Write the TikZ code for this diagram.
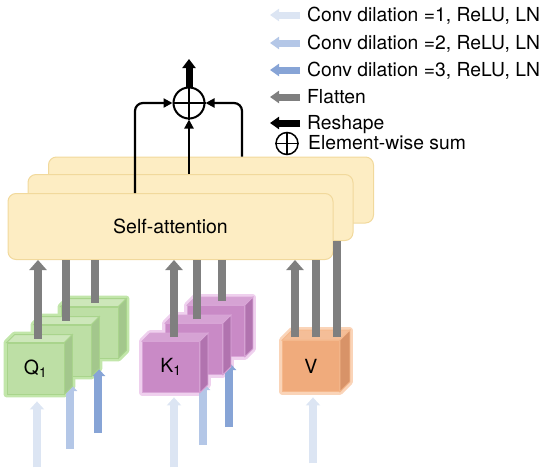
\documentclass[tikz,border=0pt]{standalone}
\usepackage{fontspec}
\setmainfont{TeX Gyre Heros}
\usetikzlibrary{arrows.meta,calc,backgrounds}

\definecolor{qfront}{HTML}{BDDFA5}
\definecolor{qtop}{HTML}{CDE7BA}
\definecolor{qside}{HTML}{A3C78C}
\definecolor{qedge}{HTML}{A9D48C}
\definecolor{qglow}{HTML}{C2E6AA}
\definecolor{kfront}{HTML}{C98AC6}
\definecolor{ktop}{HTML}{D6A3D4}
\definecolor{kside}{HTML}{B173AF}
\definecolor{kedge}{HTML}{D9A6D7}
\definecolor{kglow}{HTML}{EFD0EE}
\definecolor{vfront}{HTML}{F0AB7C}
\definecolor{vtop}{HTML}{F4BE98}
\definecolor{vside}{HTML}{D89368}
\definecolor{vedge}{HTML}{F5B88C}
\definecolor{vglow}{HTML}{FAD4B8}
\definecolor{safill}{HTML}{FDEDC3}
\definecolor{saedge}{HTML}{F1D99C}
\definecolor{convone}{HTML}{DCE5F3}
\definecolor{convtwo}{HTML}{B4C7E7}
\definecolor{convthree}{HTML}{87A4D6}
\definecolor{flatgray}{HTML}{7F7F7F}

\tikzset{
  sabox/.style={draw=saedge, fill=safill, line width=1pt, rounded corners=8pt,
    minimum width=325pt, minimum height=66pt, font=\fontsize{19.5}{19.5}\selectfont},
  cubeface/.style={fill=#1front, draw=#1edge, line width=0.8pt, inner sep=0pt,
    minimum width=57pt, minimum height=51pt, font=\fontsize{19.5}{19.5}\selectfont},
  convarrow/.style={draw=#1, line width=8pt, -{Triangle[width=14pt,length=8pt]}},
  flatarrow/.style={draw=flatgray, line width=8pt, -{Triangle[width=17pt,length=10pt]}},
  flatline/.style={draw=flatgray, line width=8pt},
  sumarrow/.style={line width=2.2pt, rounded corners=8pt, -{Triangle[width=9pt,length=9pt]}},
  reshapearrow/.style={line width=7pt, -{Triangle[width=13pt,length=9pt]}},
  legarrow/.style={draw=#1, line width=7pt, -{Triangle[width=12pt,length=9pt]}},
  legtext/.style={anchor=west, inner sep=0pt, text height=13.9pt, text depth=0pt,
    font=\fontsize{19.3}{19.3}\selectfont},
}

% cube: name, centre, colour family, label, depth
\newcommand{\qkvcube}[5]{%
  \node[cubeface=#3] (#1) at (#2) {#4};
  \filldraw[fill=#3top, draw=#3edge, line width=0.8pt] (#1.north west) -- ++(#5,-#5)
    -- ([shift={(#5,-#5)}]#1.north east) -- (#1.north east) -- cycle;
  \filldraw[fill=#3side, draw=#3edge, line width=0.8pt] (#1.north east) -- ++(#5,-#5)
    -- ([shift={(#5,-#5)}]#1.south east) -- (#1.south east) -- cycle;
  \begin{scope}[on background layer]
    \draw[#3glow, line width=6pt, line join=round] (#1.south west) -- (#1.north west)
      -- ++(#5,-#5) -- ([shift={(#5,-#5)}]#1.north east)
      -- ([shift={(#5,-#5)}]#1.south east) -- (#1.south east) -- cycle;
  \end{scope}
}

\begin{document}
\begin{tikzpicture}[x=1pt, y=-1pt]
\useasboundingbox (0,0) rectangle (544,469);

% conv inputs behind the front cubes
\draw[convarrow=convthree] ([shift={(8.5,75.5)}]89.5,357.5) -- ([shift={(8.5,10.5)}]89.5,357.5);
\draw[convarrow=convthree] ([shift={(13,70.5)}]216,356.5) -- ([shift={(13,5.5)}]216,356.5);
\draw[convarrow=convtwo] ([shift={(7.5,73.5)}]62.5,375.5) -- ([shift={(7.5,7.5)}]62.5,375.5);
\draw[convarrow=convtwo] ([shift={(9,70.5)}]194,374.5) -- ([shift={(9,7.5)}]194,374.5);

% cubes
\qkvcube{q3}{89.5,332.5}{q}{Q\textsubscript{3}}{8}
\qkvcube{q2}{62.5,350.5}{q}{Q\textsubscript{2}}{8}
\qkvcube{q1}{35.5,368.5}{q}{Q\textsubscript{1}}{8}
\qkvcube{k3}{216,331}{k}{}{8}
\qkvcube{k2}{194,349}{k}{}{8}
\qkvcube{k1}{171,367}{k}{K\textsubscript{1}}{8}
\qkvcube{v}{311,366}{v}{V}{10}

\draw[convarrow=convone] ([shift={(1.5,73)}]q1.south) -- ([shift={(1.5,7)}]q1.south);
\draw[convarrow=convone] ([shift={(3,74.5)}]k1.south) -- ([shift={(3,4.5)}]k1.south);
\draw[convarrow=convone] ([shift={(2,71.5)}]v.south) -- ([shift={(2,5.5)}]v.south);

% self-attention stack
\node[sabox] (sa3) at (211,190) {};
\node[sabox] (sa2) at (190.5,207.5) {};
\node[sabox] (sa1) at (170.5,226.5) {Self-attention};

% flatten
\coordinate (q1t) at ([shift={(2.5,-4)}]q1.north);
\coordinate (q2t) at ([shift={(3.5,-4)}]q2.north);
\coordinate (q3t) at ([shift={(5.5,-4)}]q3.north);
\coordinate (k1t) at ([shift={(3,-4)}]k1.north);
\coordinate (k2t) at ([shift={(3,-4)}]k2.north);
\coordinate (k3t) at ([shift={(6,-4)}]k3.north);
\coordinate (v1t) at ([shift={(-16,-3)}]v.north);
\coordinate (v2t) at ([shift={(5,-3)}]v.north);
\coordinate (v3t) at ([shift={(26,-3)}]v.north);
\draw[flatarrow] (q1t) -- (q1t |- sa1.south);
\draw[flatline] (q2t) -- (q2t |- sa1.south);
\draw[flatline] (q3t) -- (q3t |- sa1.south);
\draw[flatarrow] (k1t) -- (k1t |- sa1.south);
\draw[flatline] (k2t) -- (k2t |- sa1.south);
\draw[flatline] (k3t) -- (k3t |- sa1.south);
\draw[flatarrow] (v1t) -- (v1t |- sa1.south);
\draw[flatline] (v2t) -- (v2t |- sa1.south);
\draw[flatline] (v3t) -- (v3t |- sa2.south);

% element-wise sum
\node[circle, draw, line width=2pt, minimum size=31pt, inner sep=0pt] (sum) at (189,103) {};
\draw[line width=1.5pt] (sum.north) -- (sum.south) (sum.west) -- (sum.east);
\draw[sumarrow] ([xshift=-35.5pt]sa1.north) |- (sum.west);
\draw[sumarrow] (sa2.north -| sum.south) -- (sum.south);
\draw[sumarrow] ([xshift=31pt]sa3.north) |- (sum.east);
\coordinate (out) at (189,59);
\draw[reshapearrow] (sum.north) -- (out);

% legend
\node[legtext] (leg1) at (307,15) {Conv dilation =1, ReLU, LN};
\node[legtext] (leg2) at (307,43) {Conv dilation =2, ReLU, LN};
\node[legtext] (leg3) at (307,70) {Conv dilation =3, ReLU, LN};
\node[legtext] (leg4) at (307,97) {Flatten};
\node[legtext] (leg5) at (307,123) {Reshape};
\node[legtext] (leg6) at (308,143) {Element-wise sum};
\draw[legarrow=convone] ([xshift=-7pt]leg1.west) -- ([xshift=-37pt]leg1.west);
\draw[legarrow=convtwo] ([xshift=-7pt]leg2.west) -- ([xshift=-37pt]leg2.west);
\draw[legarrow=convthree] ([xshift=-7pt]leg3.west) -- ([xshift=-37pt]leg3.west);
\draw[legarrow=flatgray] ([xshift=-7pt]leg4.west) -- ([xshift=-37pt]leg4.west);
\draw[legarrow=black] ([xshift=-7pt]leg5.west) -- ([xshift=-37pt]leg5.west);
\node[circle, draw, line width=1.5pt, minimum size=22pt, inner sep=0pt] (legsum) at (287,143.5) {};
\draw[line width=1.5pt] (legsum.north) -- (legsum.south) (legsum.west) -- (legsum.east);
\end{tikzpicture}
\end{document}
